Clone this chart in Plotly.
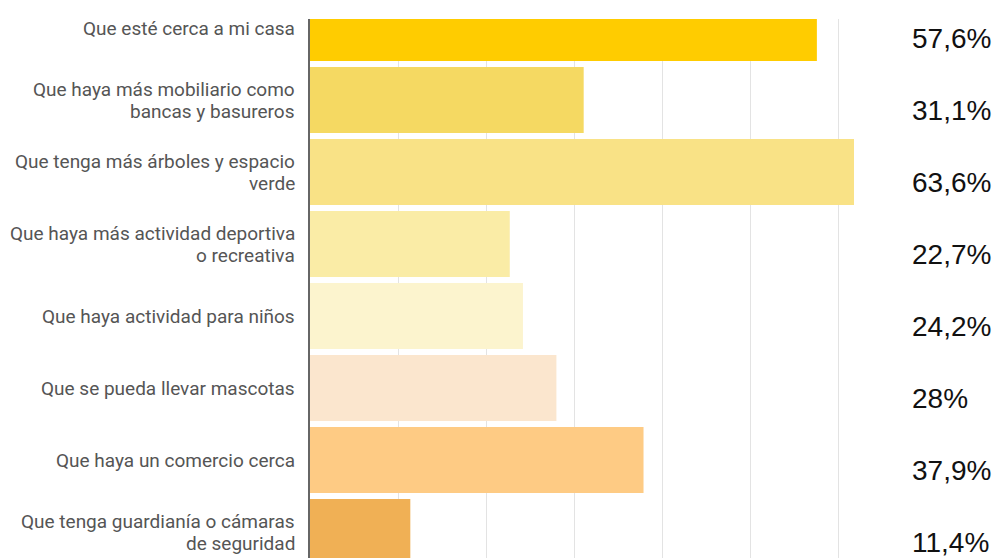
import plotly.graph_objects as go

# Survey answers (top to bottom) and share of respondents, in percent
categories = [
    "Que esté cerca a mi casa",
    "Que haya más mobiliario como\nbancas y basureros",
    "Que tenga más árboles y espacio\nverde",
    "Que haya más actividad deportiva\no recreativa",
    "Que haya actividad para niños",
    "Que se pueda llevar mascotas",
    "Que haya un comercio cerca",
    "Que tenga guardianía o cámaras\nde seguridad",
]
values = [57.6, 31.1, 63.6, 22.7, 24.2, 28.0, 37.9, 11.4]
colors = ["#FFCC00", "#F5D962", "#F9E286", "#FAECA6", "#FCF4CE",
          "#FBE6CE", "#FECB84", "#F0B055"]

W, H = 999, 558
left, right, top = 310, 854, 19
px_per_unit = 8.8           # horizontal scale: 10 % every 88 px
pitch = 72                  # vertical distance between bars
first_center = 28           # pixel row of the first bar centre

def fmt(v):
    s = f"{v:.1f}".rstrip("0").rstrip(".")
    return s.replace(".", ",") + "%"

ids = [c.replace("\n", " ") for c in categories]

fig = go.Figure(go.Bar(
    x=values, y=ids, orientation="h",
    marker=dict(color=colors, line=dict(width=0)),
    hoverinfo="skip",
))

y_top = -(first_center - top) / pitch
y_bottom = (H - first_center) / pitch

annotations = []
for cid, label, v in zip(ids, categories, values):
    lines = label.split("\n")
    n = len(lines)
    for k, line in enumerate(lines):
        annotations.append(dict(
            text=line, xref="paper", yref="y", x=0, y=cid,
            xanchor="right", yanchor="middle", xshift=-13,
            yshift=((n - 1) / 2 - k) * 22,
            showarrow=False,
            font=dict(family="Roboto", size=19, color="#555555"),
        ))
    annotations.append(dict(
        text=fmt(v), xref="paper", yref="y",
        x=(910 - left) / (right - left), y=cid,
        xanchor="left", yanchor="middle", yshift=-10,
        showarrow=False,
        font=dict(family="Liberation Sans, Arial", size=28, color="#111111"),
    ))

fig.update_layout(
    width=W, height=H,
    margin=dict(l=left, r=W - right, t=top, b=0, pad=0),
    paper_bgcolor="white", plot_bgcolor="white",
    bargap=1 - 66 / pitch,
    showlegend=False,
    annotations=annotations,
    xaxis=dict(
        range=[0, (right - left) / px_per_unit],
        dtick=10, tick0=0,
        showgrid=True, gridcolor="#e3e3e3", gridwidth=1,
        showticklabels=False, zeroline=False, showline=False, ticks="",
    ),
    yaxis=dict(
        categoryorder="array", categoryarray=ids,
        range=[y_bottom, y_top],
        showticklabels=False, showgrid=False, zeroline=False, ticks="",
        showline=True, linecolor="#666666", linewidth=2,
    ),
)

fig.write_html("out.html")
